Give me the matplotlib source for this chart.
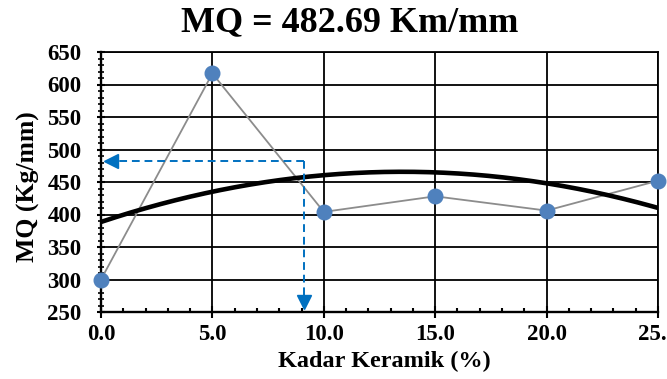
import numpy as np
import matplotlib
matplotlib.use("Agg")
import matplotlib.pyplot as plt
from matplotlib.ticker import MultipleLocator, FormatStrFormatter

# Ceramic content (%) and Marshall Quotient (Kg/mm)
kadar_keramik = [0.0, 5.0, 10.0, 15.0, 20.0, 25.0]
mq_values = [300, 617, 404, 428, 406, 452]

# Design value read from the trend and the ceramic content it corresponds to
mq_target = 482.69
kadar_target = 9.1

title_text = "MQ = 482.69 Km/mm"
xlabel_text = "Kadar Keramik (%)"
ylabel_text = "MQ (Kg/mm)"

plt.rcParams["font.family"] = ["Liberation Serif", "DejaVu Serif"]
plt.rcParams["font.weight"] = "bold"

fig = plt.figure(figsize=(6.67, 3.79), dpi=100)
ax = fig.add_axes([101 / 667, 1 - 312 / 379, (658 - 101) / 667, (312 - 52) / 379])

ax.set_xlim(0, 25)
ax.set_ylim(250, 650)

# grid
ax.xaxis.set_major_locator(MultipleLocator(5))
ax.xaxis.set_minor_locator(MultipleLocator(1))
ax.yaxis.set_major_locator(MultipleLocator(50))
ax.yaxis.set_minor_locator(MultipleLocator(10))
ax.xaxis.set_major_formatter(FormatStrFormatter("%.1f"))
ax.grid(True, which="major", color="black", linewidth=1.3, zorder=0)
ax.set_axisbelow(True)

for side in ["left", "bottom", "right", "top"]:
    ax.spines[side].set_color("black")
    ax.spines[side].set_linewidth(1.7)
ax.spines["right"].set_linewidth(1.3)
ax.spines["top"].set_linewidth(1.3)

ax.tick_params(axis="x", which="major", direction="inout", length=8, width=1.5,
               pad=5, labelsize=16.5)
ax.tick_params(axis="x", which="minor", direction="in", length=3, width=1.5)
ax.tick_params(axis="y", which="major", direction="inout", length=6, width=1.5,
               pad=11, labelsize=16.5)
ax.tick_params(axis="y", which="minor", direction="inout", length=4, width=1.2)
for lbl in ax.get_xticklabels() + ax.get_yticklabels():
    lbl.set_fontweight("bold")

# data series
ax.plot(kadar_keramik, mq_values, color="#8c8c8c", linewidth=1.3, zorder=3)
ax.plot(kadar_keramik, mq_values, linestyle="none", marker="o", markersize=10.5,
        color="#4f81bd", zorder=5, clip_on=False)

# second-order polynomial trend line
coef = np.polyfit(kadar_keramik, mq_values, 2)
xs = np.linspace(0, 25, 300)
ax.plot(xs, np.polyval(coef, xs), color="black", linewidth=3.3, zorder=4,
        solid_capstyle="butt")

# dashed reading arrows
blue = "#0070c0"
ax.plot([kadar_target, 0.5], [mq_target, mq_target], color=blue, linestyle="--",
        linewidth=1.4, dashes=(4, 2.5), zorder=6)
ax.plot([kadar_target, kadar_target], [mq_target, 266], color=blue, linestyle="--",
        linewidth=1.4, dashes=(4, 2.5), zorder=6)
ax.plot([0.45], [mq_target], marker="<", markersize=10, color=blue, zorder=7,
        linestyle="none")
ax.plot([kadar_target], [266], marker="v", markersize=10, color=blue, zorder=7,
        linestyle="none")

fig.text(350 / 667, 1 - 23 / 379, title_text, ha="center", va="center",
         fontsize=26, fontweight="bold")
fig.text(384 / 667, 1 - 361 / 379, xlabel_text, ha="center", va="center",
         fontsize=17.5, fontweight="bold")
fig.text(28 / 667, 1 - 187 / 379, ylabel_text, ha="center", va="center",
         rotation=90, fontsize=18.5, fontweight="bold")

fig.savefig("out.png", dpi=100)
